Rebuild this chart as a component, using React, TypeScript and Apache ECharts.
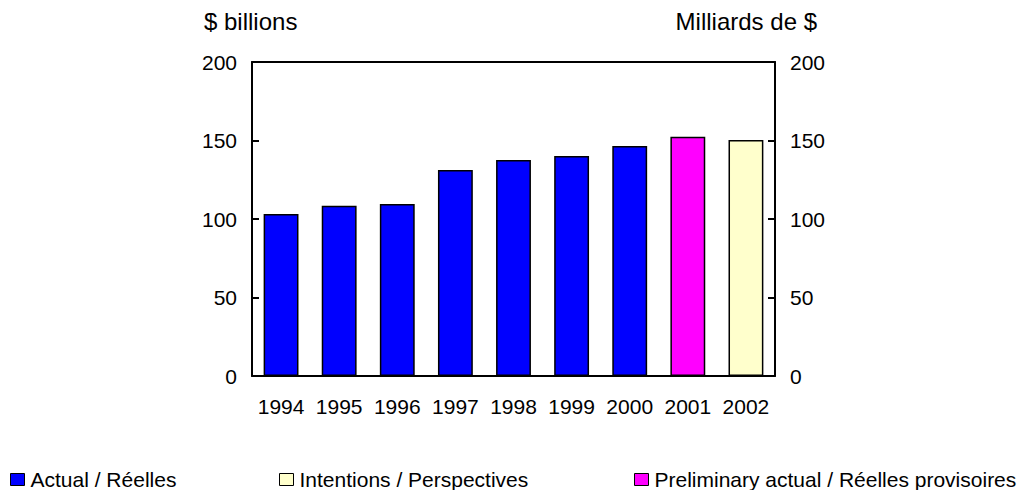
import React, { useEffect, useRef } from "react";
import * as echarts from "echarts";

const years = ["1994", "1995", "1996", "1997", "1998", "1999", "2000", "2001", "2002"];
const actual = [103.2, 108.5, 109.5, 131.2, 137.6, 140.1, 146.5, null, null];
const intentions = [null, null, null, null, null, null, null, null, 150.3];
const preliminary = [null, null, null, null, null, null, null, 152.4, null];
const yTicks = { min: 0, max: 200, interval: 50 };
const leftTitle = "$ billions";
const rightTitle = "Milliards de $";
const names = ["Actual / Réelles", "Intentions / Perspectives", "Preliminary actual / Réelles provisoires"];

const FONT = "'Liberation Sans', Arial, sans-serif";

export default function App() {
  const ref = useRef<HTMLDivElement>(null);
  useEffect(() => {
    if (!ref.current) return;
    const chart = echarts.init(ref.current, null, { renderer: "svg" });
    const axisLine = { show: true, onZero: false, lineStyle: { color: "#000", width: 2 } };
    const yAxisBase = {
      type: "value",
      min: yTicks.min,
      max: yTicks.max,
      interval: yTicks.interval,
      axisLine,
      axisTick: { show: true, inside: true, length: 7, lineStyle: { color: "#000", width: 2 } },
      splitLine: { show: false },
      axisLabel: { color: "#000", fontSize: 21, fontFamily: FONT, margin: 15 },
    };
    const legendBase = {
      top: 469,
      icon: "rect",
      itemWidth: 14,
      itemHeight: 12,
      itemGap: 0,
      padding: 0,
      textStyle: { color: "#000", fontSize: 21, fontFamily: FONT, padding: [0, 0, 0, 1] },
      itemStyle: { borderColor: "#000", borderWidth: 1 },
    };
    const barBase = {
      type: "bar",
      barWidth: "60%",
      barGap: "-100%",
      itemStyle: { borderColor: "#000", borderWidth: 1.5 },
    };
    const titleStyle = { color: "#000", fontSize: 24, fontWeight: "normal", fontFamily: FONT };
    chart.setOption({
      animation: false,
      textStyle: { fontFamily: FONT },
      title: [
        { text: leftTitle, left: 204, top: 9, padding: 0, textStyle: titleStyle },
        { text: rightTitle, right: 205, top: 9, padding: 0, textStyle: titleStyle },
      ],
      grid: { left: 252, right: 247, top: 62, bottom: 114, containLabel: false },
      legend: [
        { ...legendBase, left: 10, data: [names[0]] },
        { ...legendBase, left: 279, data: [names[1]] },
        { ...legendBase, left: 634, data: [names[2]] },
      ],
      xAxis: [
        {
          type: "category",
          data: years,
          position: "bottom",
          axisLine,
          axisTick: { show: false },
          axisLabel: { color: "#000", fontSize: 21, fontFamily: FONT, margin: 20, interval: 0 },
        },
        {
          type: "category",
          data: years,
          position: "top",
          axisLine,
          axisTick: { show: false },
          axisLabel: { show: false },
        },
      ],
      yAxis: [
        { ...yAxisBase, position: "left" },
        { ...yAxisBase, position: "right" },
      ],
      series: [
        { ...barBase, name: names[0], data: actual, itemStyle: { ...barBase.itemStyle, color: "#0000FF" } },
        { ...barBase, name: names[1], data: intentions, itemStyle: { ...barBase.itemStyle, color: "#FFFFCC" } },
        { ...barBase, name: names[2], data: preliminary, itemStyle: { ...barBase.itemStyle, color: "#FF00FF" } },
      ],
    });
    return () => chart.dispose();
  }, []);
  return (
    <div
      ref={ref}
      style={{ position: "absolute", left: 0, top: 0, width: 1022, height: 490, background: "#fff" }}
    />
  );
}
